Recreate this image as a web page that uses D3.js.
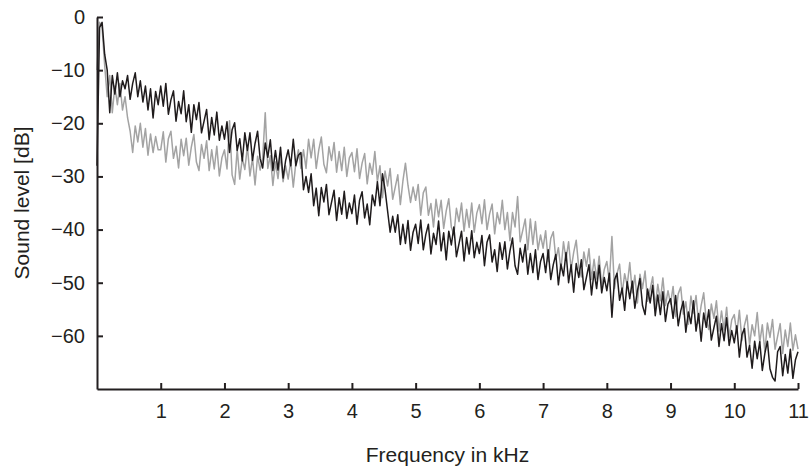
<!DOCTYPE html>
<html>
<head>
<meta charset="utf-8">
<script src="https://cdn.jsdelivr.net/npm/d3@7"></script>
<style>
  html, body { margin: 0; padding: 0; background: #fff; }
  svg text { font-family: "Liberation Sans", Arial, Helvetica, sans-serif; fill: #231f20; }
</style>
</head>
<body>
<svg id="chart" width="810" height="470"></svg>
<script>
// Frequency grid (kHz): 0.00 to 11.00 in 0.04 kHz steps
const freqStep = 0.04;

// Dark series (dB), one row per kHz (25 samples each, last row 26)
const darkLevels = [
  -28, -2, -1, -7, -10, -18, -11, -14.5, -10.5, -15, -12, -13.5, -11, -15.5, -12.5, -10.5, -15, -12, -16, -13, -17.5, -13.5, -19, -14, -16.5,
  -13, -16.8, -12.5, -18.3, -15.6, -13.9, -19.6, -15.9, -18.2, -13.9, -19.7, -16.5, -21.7, -16.5, -19.3, -16.1, -21.8, -19.6, -17.4, -23.1, -18.9, -22.2, -17.9, -23.2, -20.5,
  -23, -19.7, -25.5, -21.2, -19.9, -25.1, -22.9, -27.1, -21.8, -25.1, -21.8, -27, -23.8, -21.5, -26.7, -28.4, -23.7, -26.4, -23.1, -28.9, -25.1, -28.8, -24.5, -30.3, -27,
  -25, -28, -23, -28, -26, -25.5, -32.5, -30, -33, -29.5, -35.5, -32.2, -37.4, -32.1, -34.8, -31.5, -37.2, -34.9, -32.6, -38.3, -34, -37.1, -32.8, -37.9, -35,
  -37, -33.5, -39, -34.5, -32.9, -37.8, -35.2, -39.1, -33.5, -35.5, -31, -35.5, -29.5, -32.5, -36.5, -40.5, -37.5, -40.5, -37.2, -42.8, -39, -42.6, -38.3, -43.9, -40.5,
  -39, -42.6, -38.2, -43.8, -40.9, -39, -44.6, -40.7, -42.8, -38.4, -44, -40.6, -45.7, -40.3, -42.9, -39.5, -45.1, -42.7, -40.3, -45.9, -41.5, -44.6, -40.2, -45.3, -42.4,
  -44.5, -41.1, -46.8, -42.4, -41, -46.1, -43.8, -47.9, -42.5, -45.6, -42.3, -47.4, -44, -41.6, -46.8, -48.4, -43.5, -46.1, -42.8, -48.4, -44.5, -48.1, -43.8, -49.4, -46,
  -44.5, -48.1, -43.8, -49.4, -46.6, -44.7, -50.4, -46.5, -48.7, -44.3, -50, -46.6, -51.8, -46.4, -49, -45.7, -51.3, -49, -46.6, -52.3, -47.9, -51.1, -46.7, -51.9, -49,
  -51.5, -48.2, -56.5, -49.5, -48.2, -53.3, -51, -55.2, -49.8, -53, -49.7, -54.8, -51.5, -49.2, -54.3, -56, -51.2, -53.8, -50.5, -56.2, -52.3, -56, -51.7, -57.3, -54,
  -53, -56.7, -52.4, -58.1, -55.3, -53.5, -59.3, -55.5, -57.7, -53.4, -59.1, -55.8, -61, -55.7, -58.4, -55.1, -60.8, -58.5, -56.3, -62, -57.7, -60.9, -56.6, -61.8, -59,
  -61.3, -58.1, -64, -59.8, -58.6, -64, -61.8, -66.1, -61, -64.3, -61.1, -66.5, -63.3, -61, -66.2, -67.8, -68.5, -63, -62, -67.5, -63.5, -67, -62.5, -68, -64.5,
  -63
];

// Light (grey) series (dB), one row per kHz (25 samples each, last row 26)
const lightLevels = [
  -10, -1, -2, -9, -15, -11, -18, -13, -16.5, -12.5, -17.5, -15, -19, -21.5, -25.5, -20.5, -23.5, -20, -24.5, -21, -26, -22, -25.5, -22.5, -25,
  -25, -21.6, -27.3, -22.9, -21.5, -26.6, -24.3, -28.4, -23, -26.1, -22.8, -27.9, -24.5, -22.1, -27.3, -28.9, -24, -26.6, -23.3, -28.9, -25, -28.6, -24.3, -29.9, -26.5,
  -25, -28.6, -19.5, -29.7, -31.5, -24.9, -30.5, -26.6, -28.7, -24.3, -29.9, -26.5, -31.6, -26.2, -28.8, -26.4, -18, -28.5, -26.1, -31.7, -27.3, -30.4, -26, -31, -28,
  -30.5, -27, -32, -27.5, -25, -28.5, -25, -28.5, -23, -26.5, -23, -28.5, -25, -22.6, -27.7, -29.3, -24.4, -27, -23.6, -29.2, -25.3, -28.9, -24.5, -30, -26.5,
  -25.5, -29.1, -24.8, -30.4, -27.5, -25.7, -31.4, -27.5, -29.6, -25.3, -31, -28, -34, -29, -31.8, -28.5, -34.3, -32, -29.7, -35.3, -30.9, -27.5, -31.7, -34.9, -32,
  -34.5, -31.5, -37.3, -33.1, -32, -37.3, -35.1, -39.5, -34.3, -37.6, -34.5, -39.8, -36.5, -34.2, -39.5, -41, -36, -38.5, -35, -40.3, -36.2, -39.6, -35, -40.5, -36.9,
  -35.3, -38.9, -34.4, -40, -37.1, -35.2, -40.8, -36.8, -38.9, -34.5, -40, -36.8, -42.1, -36.8, -39.5, -33.8, -42.3, -40.2, -38, -43.8, -38, -42.8, -38.5, -43.8, -41,
  -43.5, -40.2, -46, -41.7, -40.4, -45.6, -43.4, -47.6, -42.3, -45.6, -42.3, -47.5, -44.3, -42, -47.2, -48.9, -44.2, -46.9, -43.6, -49.4, -45.6, -49.3, -45, -50.8, -47.5,
  -46, -49.7, -41.3, -51.1, -48.3, -46.5, -52.1, -48.3, -50.5, -46.2, -51.9, -48.6, -53.8, -48.4, -51.1, -47.8, -53.5, -51.2, -48.9, -54.6, -50.3, -53.4, -49.1, -54.3, -51.5,
  -54, -50.7, -56.4, -52.1, -50.8, -55.9, -53.6, -57.8, -52.5, -55.7, -52.4, -57.6, -54.3, -51.9, -57.1, -58.8, -54, -56.7, -53.4, -59.1, -55.3, -58.9, -54.6, -60.3, -57,
  -56, -59.6, -55.2, -60.9, -58, -56.1, -61.8, -57.9, -60, -55.6, -61.3, -57.9, -63, -57.6, -60.3, -56.9, -62.5, -60.1, -57.7, -63.3, -58.9, -62, -57.6, -62.7, -59.8,
  -62.5
];

const xTickValues = [1, 2, 3, 4, 5, 6, 7, 8, 9, 10, 11];
const yTickValues = [0, -10, -20, -30, -40, -50, -60];
const xTitle = "Frequency in kHz";
const yTitle = "Sound level [dB]";

const plotLeft = 97, plotRight = 798, plotTop = 17, plotBottom = 389;

const svg = d3.select("#chart");
const x = d3.scaleLinear().domain([0, 11]).range([plotLeft, plotRight]);
const y = d3.scaleLinear().domain([-70, 0]).range([plotBottom, plotTop]);

const toPoints = levels => levels.map((v, i) => ({ f: +(i * freqStep).toFixed(2), v }));

const line = d3.line().x(d => x(d.f)).y(d => y(d.v));

svg.append("path")
  .datum(toPoints(lightLevels))
  .attr("d", line)
  .attr("fill", "none")
  .attr("stroke", "#a3a3a3")
  .attr("stroke-width", 1.5)
  .attr("stroke-linejoin", "round");

svg.append("path")
  .datum(toPoints(darkLevels))
  .attr("d", line)
  .attr("fill", "none")
  .attr("stroke", "#1f1b1c")
  .attr("stroke-width", 1.5)
  .attr("stroke-linejoin", "round");

const fmt = v => (v < 0 ? "\u2212" + Math.abs(v) : String(v));

const xAxis = svg.append("g")
  .attr("transform", `translate(0,${plotBottom})`)
  .call(d3.axisBottom(x).tickValues(xTickValues).tickSizeInner(-6).tickSizeOuter(0).tickPadding(15).tickFormat(fmt));

const yAxis = svg.append("g")
  .attr("transform", `translate(${plotLeft},0)`)
  .call(d3.axisLeft(y).tickValues(yTickValues).tickSizeInner(-6).tickSizeOuter(0).tickPadding(12).tickFormat(fmt));

[xAxis, yAxis].forEach(g => {
  g.attr("font-family", null).attr("font-size", null);
  g.select(".domain").attr("stroke", "#231f20").attr("stroke-width", 2);
  g.selectAll(".tick line").attr("stroke", "#231f20").attr("stroke-width", 2);
  g.selectAll(".tick text").attr("font-size", 20).attr("fill", "#231f20");
});

svg.append("text")
  .attr("x", (plotLeft + plotRight) / 2)
  .attr("y", 462)
  .attr("text-anchor", "middle")
  .attr("font-size", 21)
  .text(xTitle);

svg.append("text")
  .attr("transform", `translate(29,${(plotTop + plotBottom) / 2}) rotate(-90)`)
  .attr("text-anchor", "middle")
  .attr("font-size", 21)
  .text(yTitle);
</script>
</body>
</html>
